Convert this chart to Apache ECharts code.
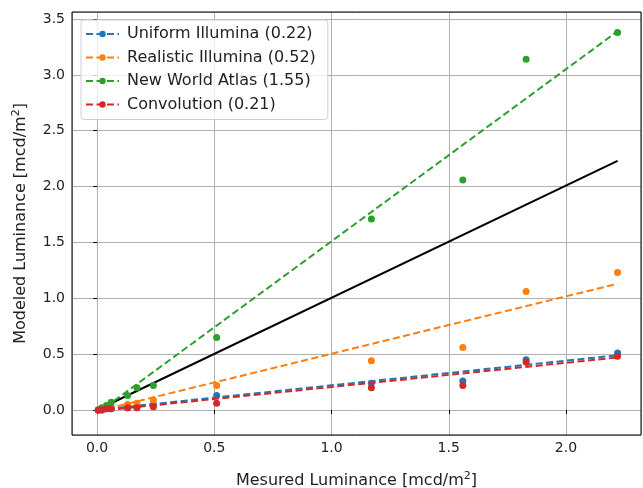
<!DOCTYPE html>
<html>
<head>
<meta charset="utf-8">
<script src="https://cdn.jsdelivr.net/npm/echarts@6/dist/echarts.min.js"></script>
<style>
  html, body { margin: 0; padding: 0; background: #fff; }
  #chart { width: 643px; height: 488px; }
</style>
</head>
<body>
<div id="chart"></div>
<script>
// measured luminance (x) shared by all models
var measured = [0.005, 0.02, 0.04, 0.06, 0.13, 0.17, 0.24, 0.51, 1.17, 1.56, 1.83, 2.22]
var uniform = [0.0, 0.0, 0.01, 0.01, 0.02, 0.03, 0.05, 0.13, 0.24, 0.26, 0.45, 0.51]
var realistic = [0.0, 0.01, 0.02, 0.03, 0.05, 0.06, 0.09, 0.22, 0.44, 0.56, 1.06, 1.23]
var atlas = [0.0, 0.02, 0.04, 0.07, 0.13, 0.20, 0.22, 0.65, 1.71, 2.06, 3.14, 3.38]
var convolution = [0.0, 0.0, 0.01, 0.01, 0.02, 0.02, 0.03, 0.06, 0.20, 0.22, 0.43, 0.48]

// fitted lines as [start, end]
var uniformFit = [[0.0, 0.0], [2.22, 0.49]]
var realisticFit = [[0.0, -0.01], [2.22, 1.13]]
var atlasFit = [[0.0, -0.03], [2.22, 3.39]]
var convolutionFit = [[0.0, -0.01], [2.22, 0.47]]
var identity = [[0.0, 0.0], [2.22, 2.23]]

var names = ['Uniform Illumina (0.22)', 'Realistic Illumina (0.52)', 'New World Atlas (1.55)', 'Convolution (0.21)']
var colors = ['#1f77b4', '#ff7f0e', '#2ca02c', '#d62728']
var values = [uniform, realistic, atlas, convolution]
var fits = [uniformFit, realisticFit, atlasFit, convolutionFit]

var font = 'DejaVu Sans'

function pairs (ys) {
  return measured.map(function (x, i) { return [x, ys[i]] })
}

var series = [{
  type: 'line',
  data: identity,
  showSymbol: false,
  lineStyle: {color: '#000', width: 2},
  silent: true,
  z: 1
}]
names.forEach(function (name, i) {
  series.push({
    name: name,
    type: 'line',
    data: fits[i],
    symbol: 'circle',
    symbolSize: 6,
    showSymbol: false,
    itemStyle: {color: colors[i]},
    lineStyle: {color: colors[i], width: 2, type: [7, 3.5]},
    z: 2 + i
  })
  series.push({
    name: name,
    type: 'scatter',
    data: pairs(values[i]),
    symbolSize: 7,
    itemStyle: {color: colors[i], opacity: 1},
    z: 2 + i
  })
})

var axisName = function () {
  return {
    fontFamily: font, fontSize: 16, color: '#222',
    rich: {sup: {fontFamily: font, fontSize: 11, color: '#222', padding: [0, 0, 9, 0]}}
  }
}

var chart = echarts.init(document.getElementById('chart'))
chart.setOption({
  animation: false,
  textStyle: {fontFamily: font},
  grid: {
    left: 72, right: 2, top: 12, bottom: 53,
    outerBoundsMode: 'none',
    show: true, borderColor: '#000', borderWidth: 1, z: 10
  },
  legend: {
    orient: 'vertical',
    left: 81,
    top: 20,
    data: names,
    itemWidth: 33,
    itemHeight: 8,
    itemGap: 7.5,
    padding: [6, 12, 7, 4],
    backgroundColor: 'rgba(255,255,255,0.8)',
    borderColor: '#d0d0d0',
    borderWidth: 1,
    borderRadius: 3,
    textStyle: {fontFamily: font, fontSize: 16, color: '#222', padding: [0, 0, 0, 3]}
  },
  xAxis: {
    type: 'value',
    min: -0.107,
    max: 2.32,
    splitNumber: 5,
    name: 'Mesured Luminance [mcd/m{sup|2}]',
    nameLocation: 'middle',
    nameGap: 36,
    nameTextStyle: axisName(),
    axisLine: {show: false},
    axisTick: {show: true, length: 4, lineStyle: {color: '#000'}},
    axisLabel: {showMinLabel: false, showMaxLabel: false, fontSize: 14, color: '#222', margin: 6,
      formatter: function (v) { return v.toFixed(1) }},
    splitLine: {show: true, lineStyle: {color: '#b0b0b0', width: 1}}
  },
  yAxis: {
    type: 'value',
    min: -0.224,
    max: 3.563,
    splitNumber: 7,
    name: 'Modeled Luminance [mcd/m{sup|2}]',
    nameLocation: 'middle',
    nameGap: 41,
    nameTextStyle: axisName(),
    axisLine: {show: false},
    axisTick: {show: true, length: 4, lineStyle: {color: '#000'}},
    axisLabel: {showMinLabel: false, showMaxLabel: false, fontSize: 14, color: '#222', margin: 7,
      formatter: function (v) { return v.toFixed(1) }},
    splitLine: {show: true, lineStyle: {color: '#b0b0b0', width: 1}}
  },
  series: series
})
</script>
</body>
</html>
